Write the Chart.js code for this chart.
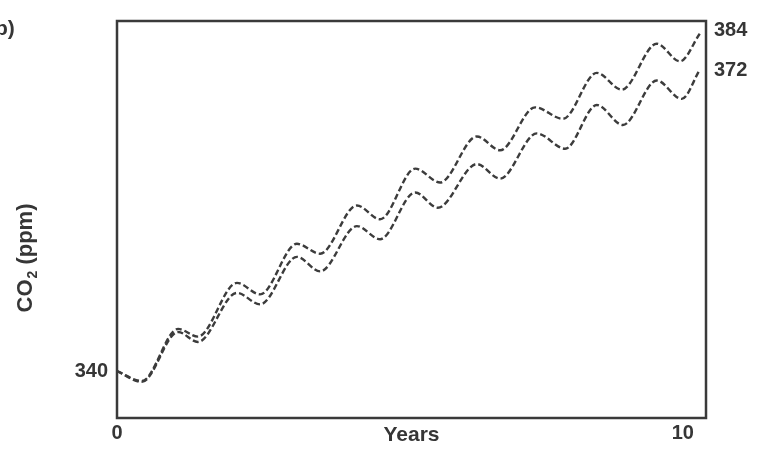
<!DOCTYPE html>
<html><head><meta charset="utf-8">
<script src="https://cdn.jsdelivr.net/npm/chart.js@4.4.0/dist/chart.umd.min.js"></script>
<style>html,body{margin:0;padding:0;background:#fff}#wrap{width:757px;height:453px;position:relative}</style>
</head><body><div id="wrap"><canvas id="c"></canvas></div>
<script>
// ---- data ----
const xTickValues = [0, 10];
const xTickLabels = ['0', '10'];
const leftTickValues = [340];
const rightTickValues = [372, 384];

const upperYears = [0, 0.44, 1.08, 1.43, 2.12, 2.53, 3.18, 3.59, 4.24, 4.65, 5.27, 5.71, 6.36, 6.77, 7.39, 7.88, 8.48, 8.92, 9.54, 9.95, 10.30];
const upperPpm   = [340, 338.7, 345.5, 344.5, 351.5, 350.0, 356.6, 355.3, 361.6, 359.8, 366.4, 364.6, 370.6, 368.8, 374.4, 372.9, 378.9, 376.7, 382.7, 380.4, 384.0];

const lowerYears = [0, 0.44, 1.08, 1.43, 2.12, 2.53, 3.18, 3.59, 4.24, 4.65, 5.27, 5.67, 6.36, 6.77, 7.42, 7.92, 8.48, 8.94, 9.54, 9.98, 10.30];
const lowerPpm   = [340, 338.6, 345.1, 343.8, 350.2, 348.7, 354.9, 353.0, 358.9, 357.2, 363.3, 361.3, 367.0, 365.1, 371.0, 369.0, 374.7, 372.1, 377.9, 375.5, 379.3];

const xTitle = 'Years';
const yTitleParts = ['CO', '2', ' (ppm)'];
const panelLabel = 'b)';

// ---- styles ----
const INK = '#363636';
const FAM = '"Liberation Sans", Arial, Helvetica, sans-serif';

const framePlugin = {
  id: 'frame',
  afterDraw(chart) {
    const {ctx, chartArea: a} = chart;
    ctx.save();
    ctx.strokeStyle = '#3a3a3a';
    ctx.lineWidth = 2.5;
    ctx.strokeRect(a.left, a.top, a.right - a.left, a.bottom - a.top);
    ctx.restore();
  }
};

const textPlugin = {
  id: 'texts',
  afterDraw(chart) {
    const {ctx} = chart;
    ctx.save();
    ctx.fillStyle = INK;
    ctx.font = 'bold 21px ' + FAM;
    ctx.textBaseline = 'alphabetic';
    ctx.textAlign = 'left';
    ctx.fillText(panelLabel, -5, 35);
    const big = 'bold 22px ' + FAM, small = 'bold 14px ' + FAM;
    ctx.font = big; const w1 = ctx.measureText(yTitleParts[0]).width;
    ctx.font = small; const w2 = ctx.measureText(yTitleParts[1]).width;
    ctx.font = big; const w3 = ctx.measureText(yTitleParts[2]).width;
    const total = w1 + w2 + w3 + 1;
    ctx.translate(32, 258);
    ctx.rotate(-Math.PI / 2);
    let x = -total / 2;
    ctx.font = big; ctx.fillText(yTitleParts[0], x, 0); x += w1;
    ctx.font = small; ctx.fillText(yTitleParts[1], x + 1, 5); x += w2 + 1;
    ctx.font = big; ctx.fillText(yTitleParts[2], x, 0);
    ctx.restore();
  }
};

const mk = (xs, ys) => xs.map((x, i) => ({x, y: ys[i]}));
const lineStyle = {
  borderColor: '#3c3c3c', borderWidth: 2.4, borderDash: [6, 3],
  pointRadius: 0, fill: false, cubicInterpolationMode: 'monotone', yAxisID: 'y'
};
const tickFont = {family: FAM, size: 20, weight: 'bold'};

new Chart(document.getElementById('c'), {
  type: 'line',
  data: {
    datasets: [
      Object.assign({label: 'upper', data: mk(upperYears, upperPpm)}, lineStyle),
      Object.assign({label: 'lower', data: mk(lowerYears, lowerPpm)}, lineStyle)
    ]
  },
  options: {
    responsive: true, maintainAspectRatio: false, animation: false,
    layout: {padding: {top: 12, left: 0, right: 0, bottom: 0}},
    plugins: {legend: {display: false}, tooltip: {enabled: false}},
    scales: {
      x: {
        type: 'linear', min: 0, max: 10.41,
        afterBuildTicks: s => { s.ticks = xTickValues.map(v => ({value: v})); },
        afterFit: s => { s.height = 35; },
        grid: {display: false, drawTicks: false},
        border: {display: false},
        ticks: {
          autoSkip: false, maxRotation: 0, padding: 3, color: INK, font: tickFont,
          callback: (v, i) => xTickLabels[i]
        },
        title: {display: true, text: xTitle, color: INK,
          font: {family: FAM, size: 21, weight: 'bold', lineHeight: 1.2},
          padding: {top: 0, bottom: 5}}
      },
      y: {
        type: 'linear', position: 'left', min: 333.88, max: 385.66,
        afterBuildTicks: s => { s.ticks = leftTickValues.map(v => ({value: v})); },
        afterFit: s => { s.width = 117; },
        grid: {display: false, drawTicks: false},
        border: {display: false},
        ticks: {padding: 9, color: INK, font: tickFont}
      },
      y2: {
        type: 'linear', position: 'right', min: 267.96, max: 386.78,
        afterBuildTicks: s => { s.ticks = rightTickValues.map(v => ({value: v})); },
        afterFit: s => { s.width = 51; },
        grid: {display: false, drawTicks: false},
        border: {display: false},
        ticks: {padding: 8, color: INK, font: tickFont}
      }
    }
  },
  plugins: [framePlugin, textPlugin]
});
</script>
</body></html>
